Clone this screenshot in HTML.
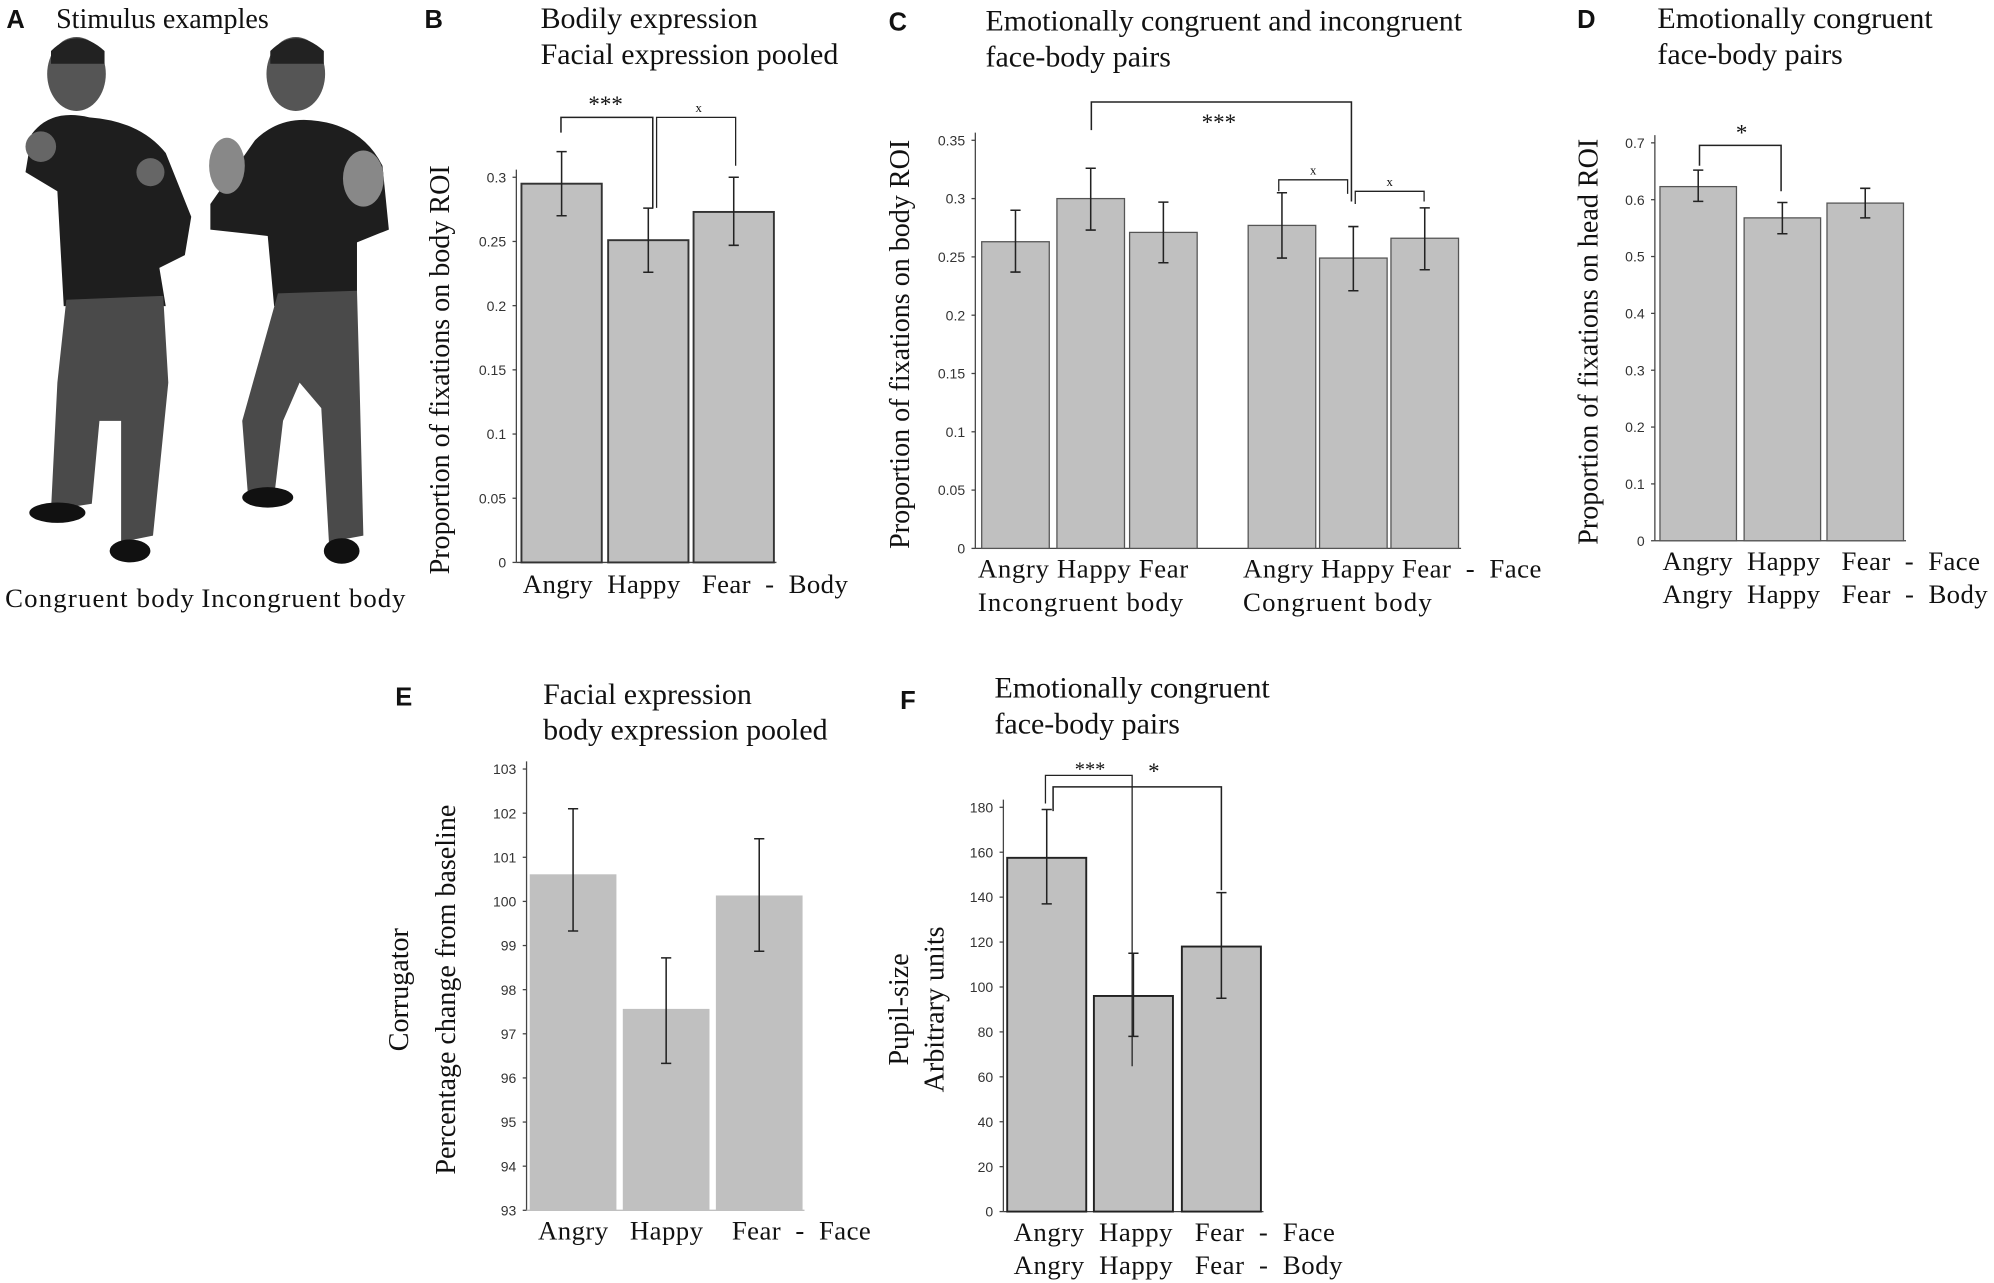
<!DOCTYPE html>
<html><head><meta charset="utf-8"><style>
html,body{margin:0;padding:0;background:#fff}
svg{display:block}
.t{font-family:"Liberation Serif",serif;fill:#111;white-space:pre}
.tk{font-family:"Liberation Sans",sans-serif;font-size:11px;fill:#333}
.L{font-family:"Liberation Sans",sans-serif;font-weight:bold;font-size:20px;fill:#111}
</style></head><body>
<svg id="fig" width="1994" height="1283" viewBox="0 0 1564 1006" preserveAspectRatio="none" xmlns="http://www.w3.org/2000/svg">
<g>
<text class="L" x="5" y="22">A</text>
<text class="t" x="44" y="22" font-size="22">Stimulus examples</text>
<g>
<ellipse cx="60" cy="58" rx="23" ry="29" fill="#555"/><path d="M40 40 Q60 20 82 40 L82 50 L40 50Z" fill="#222"/>
<path d="M25 105 Q40 85 70 92 Q110 95 130 120 L150 170 L145 200 L125 210 L130 240 L50 240 L45 150 L20 135Z" fill="#1e1e1e"/>
<circle cx="32" cy="115" r="12" fill="#666"/><circle cx="118" cy="135" r="11" fill="#666"/>
<path d="M52 235 L128 232 L132 300 L120 420 L95 425 L95 330 L78 330 L72 395 L40 400 L45 300Z" fill="#4a4a4a"/>
<ellipse cx="45" cy="402" rx="22" ry="8" fill="#111"/><ellipse cx="102" cy="432" rx="16" ry="9" fill="#111"/>
</g>
<g>
<ellipse cx="232" cy="58" rx="23" ry="29" fill="#555"/><path d="M212 40 Q232 20 254 40 L254 50 L212 50Z" fill="#222"/>
<path d="M200 110 Q220 90 250 95 Q285 100 300 130 L305 180 L280 190 L280 240 L215 240 L210 185 L165 180 L165 160Z" fill="#1e1e1e"/>
<ellipse cx="178" cy="130" rx="14" ry="22" fill="#888"/><ellipse cx="285" cy="140" rx="16" ry="22" fill="#888"/>
<path d="M218 230 L280 228 L282 300 L285 420 L258 425 L252 320 L235 300 L222 330 L215 390 L195 395 L190 330Z" fill="#4a4a4a"/>
<ellipse cx="210" cy="390" rx="20" ry="8" fill="#111"/><ellipse cx="268" cy="432" rx="14" ry="10" fill="#111"/>
</g>
<text class="t" x="4" y="476" font-size="21" textLength="148">Congruent body</text>
<text class="t" x="158" y="476" font-size="21" textLength="160">Incongruent body</text>
</g>
<g id="charts"></g>
</svg>
<script>
// Panel B data
const bCats = ["Angry","Happy","Fear"];
const bVals = [0.295,0.251,0.273];
const bLo = [0.270,0.226,0.247];
const bHi = [0.320,0.276,0.300];
const bTicks = [0,0.05,0.1,0.15,0.2,0.25,0.3];
// Panel C data
const cCats = ["Angry","Happy","Fear","Angry","Happy","Fear"];
const cVals = [0.263,0.300,0.271,0.277,0.249,0.266];
const cLo = [0.237,0.273,0.245,0.249,0.221,0.239];
const cHi = [0.290,0.326,0.297,0.305,0.276,0.292];
const cTicks = [0,0.05,0.1,0.15,0.2,0.25,0.3,0.35];
// Panel D data
const dCats = ["Angry","Happy","Fear"];
const dVals = [0.623,0.568,0.594];
const dLo = [0.597,0.540,0.568];
const dHi = [0.652,0.595,0.620];
const dTicks = [0,0.1,0.2,0.3,0.4,0.5,0.6,0.7];
// Panel E data
const eCats = ["Angry","Happy","Fear"];
const eVals = [100.6,97.55,100.12];
const eLo = [99.33,96.33,98.87];
const eHi = [102.1,98.72,101.42];
const eTicks = [93,94,95,96,97,98,99,100,101,102,103];
// Panel F data
const fCats = ["Angry","Happy","Fear"];
const fVals = [157.5,96,118];
const fLo = [137,78,95];
const fHi = [179,115,142];
const fTicks = [0,20,40,60,80,100,120,140,160,180];

const NS="http://www.w3.org/2000/svg";
const root=document.getElementById('charts');
function mk(tag,attrs,parent,txt){const e=document.createElementNS(NS,tag);for(const k in attrs)e.setAttribute(k,attrs[k]);if(txt!==undefined)e.textContent=txt;(parent||root).appendChild(e);return e;}

function chart(o){
  const g=mk('g',{});
  
  
  const y=v=>o.y0-(v-o.vmin)/(o.vmax-o.vmin)*(o.y0-o.y1);
  const ax=mk('line',{x1:o.ax,x2:o.ax,y1:o.y0,y2:o.y1-6,stroke:'#444','stroke-width':1},g);
  
  
  o.ticks.forEach(t=>{
    const tl=mk('text',{class:'tk',x:o.ax-8,y:y(t)+4,'text-anchor':'end'},g,String(t));
    
    
    mk('line',{x1:o.ax-3,x2:o.ax,y1:y(t),y2:y(t),stroke:'#444'},g);
  });
  const bl=mk('line',{x1:o.ax,x2:o.bx[o.bx.length-1]+o.bw+2,y1:o.y0,y2:o.y0,stroke:o.base||'#444','stroke-width':1},g);
  
  
  o.vals.forEach((v,i)=>{
    const r=mk('rect',{x:o.bx[i],y:y(v),width:o.bw,height:o.y0-y(v),fill:'#c0c0c0',stroke:o.stroke||'#555','stroke-width':o.sw||1},g);
    
    
    const cx=o.bx[i]+o.bw/2;
    const eb=mk('path',{d:`M${cx-4} ${y(o.hi[i])}H${cx+4}M${cx} ${y(o.hi[i])}V${y(o.lo[i])}M${cx-4} ${y(o.lo[i])}H${cx+4}`,stroke:'#222',fill:'none','stroke-width':1.2},g);
    
    
  });
  const tt=mk('text',{class:'t','font-size':22,transform:`translate(${o.ytx},${(o.y0+o.y1)/2}) rotate(-90)`,'text-anchor':'middle'},g,o.ytitle);
  
  
  if(o.ytitle2){const t2=mk('text',{class:'t','font-size':22,transform:`translate(${o.ytx2},${(o.y0+o.y1)/2}) rotate(-90)`,'text-anchor':'middle'},g,o.ytitle2);
    
    }
  o.xl.forEach(l=>{const e=mk('text',{class:'t','font-size':21,x:l[0],y:l[1],textLength:l[3],lengthAdjust:'spacing'},g,l[2]);
    
    });
  o.title.forEach((s,i)=>{const e=mk('text',{class:'t','font-size':23.5,x:o.tx,y:o.ty+i*28},g,s);
    
    });
  const L=mk('text',{class:'L',x:o.lx,y:o.ly},g,o.letter);
  
  
  (o.sig||[]).forEach(s=>{
    const p=mk('path',{d:s[0],stroke:'#222',fill:'none','stroke-width':s[3]||1.2},g);
    
    
    const e=mk('text',{class:'t','font-size':s[4]||18,x:s[1],y:s[2],'text-anchor':'middle'},g,s[5]);
    
    
  });
  return y;
}
chart({name:'panel-b-chart',letter:'B',lx:333,ly:22,tx:424,ty:22,title:['Bodily expression','Facial expression pooled'],
  cats:bCats,vals:bVals,lo:bLo,hi:bHi,ticks:bTicks,vmin:0,vmax:0.3,y0:441,y1:139,ax:405,bx:[409,477,544],bw:63,stroke:'#333',sw:1.5,
  ytitle:'Proportion of fixations on body ROI',ytx:352,xl:[[410,465,'Angry  Happy   Fear  -  Body',255]],
  sig:[['M440 104V92H512V163',475,88,1.2,18,'***'],['M515 163V92H577V130',548,88,1,10,'x']]});
chart({name:'panel-c-chart',letter:'C',lx:697,ly:24,tx:773,ty:24,title:['Emotionally congruent and incongruent','face-body pairs'],
  cats:cCats,vals:cVals,lo:cLo,hi:cHi,ticks:cTicks,vmin:0,vmax:0.35,y0:430,y1:110,ax:765,bx:[770,829,886,979,1035,1091],bw:53,
  ytitle:'Proportion of fixations on body ROI',ytx:713,
  xl:[[767,453,'Angry Happy Fear',165],[767,479,'Incongruent body',161],[975,453,'Angry Happy Fear  -  Face',234],[975,479,'Congruent body',148]],
  sig:[['M856 102V80H1060V158',956,102,1.2,18,'***'],['M1003 150V141H1057V152',1030,137,1,10,'x'],['M1063 160V150H1117V158',1090,146,1,10,'x']]});
chart({name:'panel-d-chart',letter:'D',lx:1237,ly:22,tx:1300,ty:22,title:['Emotionally congruent','face-body pairs'],
  cats:dCats,vals:dVals,lo:dLo,hi:dHi,ticks:dTicks,vmin:0,vmax:0.7,y0:424,y1:112,ax:1298,bx:[1302,1368,1433],bw:60,
  ytitle:'Proportion of fixations on head ROI',ytx:1253,
  xl:[[1304,447,'Angry  Happy   Fear  -  Face',249],[1304,473,'Angry  Happy   Fear  -  Body',255]],
  sig:[['M1333 130V114H1397V150',1366,110,1.2,18,'*']]});
chart({name:'panel-e-chart',letter:'E',lx:310,ly:553,tx:426,ty:552,title:['Facial expression','body expression pooled'],
  cats:eCats,vals:eVals,lo:eLo,hi:eHi,ticks:eTicks,vmin:93,vmax:103,y0:949,y1:603,ax:413,bx:[416,489,562],bw:67,stroke:'#c0c0c0',base:'#c0c0c0',
  ytitle:'Corrugator',ytx:320,ytitle2:'Percentage change from baseline',ytx2:357,
  xl:[[422,972,'Angry   Happy    Fear  -  Face',261]]});
chart({name:'panel-f-chart',letter:'F',lx:706,ly:556,tx:780,ty:547,title:['Emotionally congruent','face-body pairs'],
  cats:fCats,vals:fVals,lo:fLo,hi:fHi,ticks:fTicks,vmin:0,vmax:180,y0:950,y1:633,ax:787,bx:[790,858,927],bw:62,stroke:'#222',sw:1.5,
  ytitle:'Pupil-size',ytx:712,ytitle2:'Arbitrary units',ytx2:740,
  xl:[[795,973,'Angry  Happy   Fear  -  Face',252],[795,999,'Angry  Happy   Fear  -  Body',258]],
  sig:[['M820 630V608H888V836',855,608,1,16,'***'],['M826 636V617H958V698',905,611,1.2,18,'*']]});
</script>
</body></html>
